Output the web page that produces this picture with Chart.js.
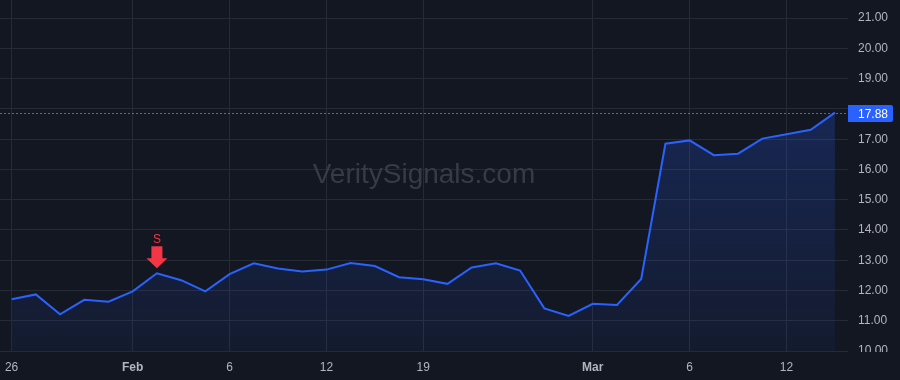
<!DOCTYPE html>
<html>
<head>
    <meta charset="utf-8">
    <title>VeritySignals chart</title>
    <style>
        html, body {
            margin: 0;
            padding: 0;
            background: #131722;
        }

        .chart-box {
            width: 900px;
            height: 380px;
        }
    </style>
</head>
<body>

<div class="chart-box">
    <canvas id="priceChart"></canvas>
</div>

<script src="https://cdn.jsdelivr.net/npm/chart.js"></script>
<script>
    // data (one point per session)
    const prices = [
        11.71, 11.87, 11.21, 11.69, 11.63, 11.97, 12.57, 12.34, 11.97, 12.54,
        12.90, 12.73, 12.63, 12.69, 12.91, 12.81, 12.44, 12.37, 12.22, 12.76,
        12.90, 12.66, 11.41, 11.16, 11.56, 11.52, 12.38, 16.85, 16.96, 16.47,
        16.52, 17.02, 17.16, 17.31, 17.88
    ];

    // x axis labels sit on these sessions
    const tickIndex = [0, 5, 9, 13, 17, 24, 28, 32];
    const tickText = ['26', 'Feb', '6', '12', '19', 'Mar', '6', '12'];
    const boldTicks = ['Feb', 'Mar'];

    const yTicks = [10, 11, 12, 13, 14, 15, 16, 17, 18, 19, 20, 21];

    // sell signal
    const signalIndex = [6];
    const signalText = ['S'];

    const lastPrice = prices[prices.length - 1];

    const BG = '#131722';
    const GRID = '#262a35';
    const TEXT = '#b2b5be';
    const BLUE = '#2962ff';
    const RED = '#f23645';
    const FONT = "'Liberation Sans', Arial, sans-serif";

    // no extra room for overflowing labels, the plot runs to the edges
    function noPad(s) {
        s.paddingTop = 0;
        s.paddingBottom = 0;
        s.paddingLeft = 0;
        s.paddingRight = 0;
    }

    // watermark + signal arrows + last price line
    const overlay = {
        id: 'overlay',
        beforeDatasetsDraw(chart) {
            const { ctx, chartArea } = chart;
            ctx.save();
            ctx.fillStyle = '#373b46';
            ctx.font = '28px ' + FONT;
            ctx.textAlign = 'center';
            ctx.textBaseline = 'middle';
            ctx.fillText('VeritySignals.com', (chartArea.left + chartArea.right) / 2, (chartArea.top + chartArea.bottom) / 2);
            ctx.restore();
        },
        afterDatasetsDraw(chart) {
            const { ctx, chartArea, scales } = chart;
            const x = scales.x, y = scales.y;

            // dotted last price line
            const py = Math.round(y.getPixelForValue(lastPrice));
            ctx.save();
            ctx.fillStyle = '#2f6bff';
            for (let px = chartArea.left; px < chartArea.right; px += 4) {
                ctx.fillRect(px, py, 2, 1);
            }
            ctx.restore();

            // signal arrows
            signalIndex.forEach((idx, k) => {
                const cx = x.getPixelForValue(idx);
                const tip = y.getPixelForValue(prices[idx]) - 5;
                ctx.save();
                ctx.fillStyle = RED;
                ctx.beginPath();
                ctx.moveTo(cx - 5.5, tip - 22);
                ctx.lineTo(cx + 5.5, tip - 22);
                ctx.lineTo(cx + 5.5, tip - 10);
                ctx.lineTo(cx + 10.5, tip - 10);
                ctx.lineTo(cx, tip);
                ctx.lineTo(cx - 10.5, tip - 10);
                ctx.lineTo(cx - 5.5, tip - 10);
                ctx.closePath();
                ctx.fill();
                ctx.font = '12px ' + FONT;
                ctx.textAlign = 'center';
                ctx.textBaseline = 'middle';
                ctx.fillText(signalText[k], cx, tip - 29);
                ctx.restore();
            });
        },
        afterDraw(chart) {
            const { ctx, chartArea, scales, width, height } = chart;
            // hide the lower half of the bottom price label, like the original
            ctx.save();
            ctx.fillStyle = BG;
            ctx.fillRect(chartArea.right, chartArea.bottom + 1, width - chartArea.right, height - chartArea.bottom);

            // last price tag on the axis
            const py = Math.round(scales.y.getPixelForValue(lastPrice)) + 0.5;
            const bx = chartArea.right, bw = 45, bh = 17;
            ctx.fillStyle = BLUE;
            ctx.beginPath();
            ctx.roundRect(bx, py - bh / 2, bw, bh, [0, 2, 2, 0]);
            ctx.fill();
            ctx.fillStyle = '#ffffff';
            ctx.font = '12px ' + FONT;
            ctx.textAlign = 'left';
            ctx.textBaseline = 'middle';
            ctx.fillText(lastPrice.toFixed(2), bx + 10, py + 1);
            ctx.restore();
        }
    };

    const canvas = document.getElementById('priceChart');
    const ctx = canvas.getContext('2d');

    new Chart(ctx, {
        type: 'line',
        data: {
            datasets: [{
                data: prices.map((v, i) => ({ x: i, y: v })),
                borderColor: BLUE,
                borderWidth: 2,
                pointRadius: 0,
                tension: 0,
                fill: 'start',
                backgroundColor: (c) => {
                    const area = c.chart.chartArea;
                    if (!area) return 'rgba(41,98,255,0.15)';
                    const g = c.chart.ctx.createLinearGradient(0, area.top, 0, area.bottom);
                    g.addColorStop(0, 'rgba(41,98,255,0.3)');
                    g.addColorStop(1, 'rgba(41,98,255,0.06)');
                    return g;
                }
            }]
        },
        options: {
            responsive: true,
            maintainAspectRatio: false,
            animation: false,
            layout: { padding: 0 },
            plugins: {
                legend: { display: false },
                tooltip: { enabled: false }
            },
            scales: {
                x: {
                    type: 'linear',
                    min: -0.48,
                    max: 34.54,
                    afterBuildTicks: (s) => { s.ticks = tickIndex.map(v => ({ value: v })); },
                    afterFit: (s) => { s.height = 29; noPad(s); },
                    border: { display: false },
                    grid: { color: GRID, drawTicks: false },
                    ticks: {
                        padding: 9,
                        color: TEXT,
                        maxRotation: 0,
                        autoSkip: false,
                        font: (c) => ({
                            family: FONT,
                            size: 12,
                            weight: c.tick && boldTicks.includes(tickText[tickIndex.indexOf(c.tick.value)]) ? 'bold' : 'normal'
                        }),
                        callback: (v) => tickText[tickIndex.indexOf(v)] ?? ''
                    }
                },
                y: {
                    position: 'right',
                    min: 10,
                    max: 21.6,
                    afterBuildTicks: (s) => { s.ticks = yTicks.map(v => ({ value: v })); },
                    afterFit: (s) => { s.width = 52; noPad(s); },
                    border: { display: false },
                    grid: { color: GRID, drawTicks: false },
                    ticks: {
                        padding: 10,
                        color: TEXT,
                        font: { family: FONT, size: 12 },
                        // the last price tag covers the label next to it
                        callback: (v) => Math.abs(v - lastPrice) < 0.3 ? '' : Number(v).toFixed(2)
                    }
                }
            }
        },
        plugins: [overlay]
    });
</script>

</body>
</html>
